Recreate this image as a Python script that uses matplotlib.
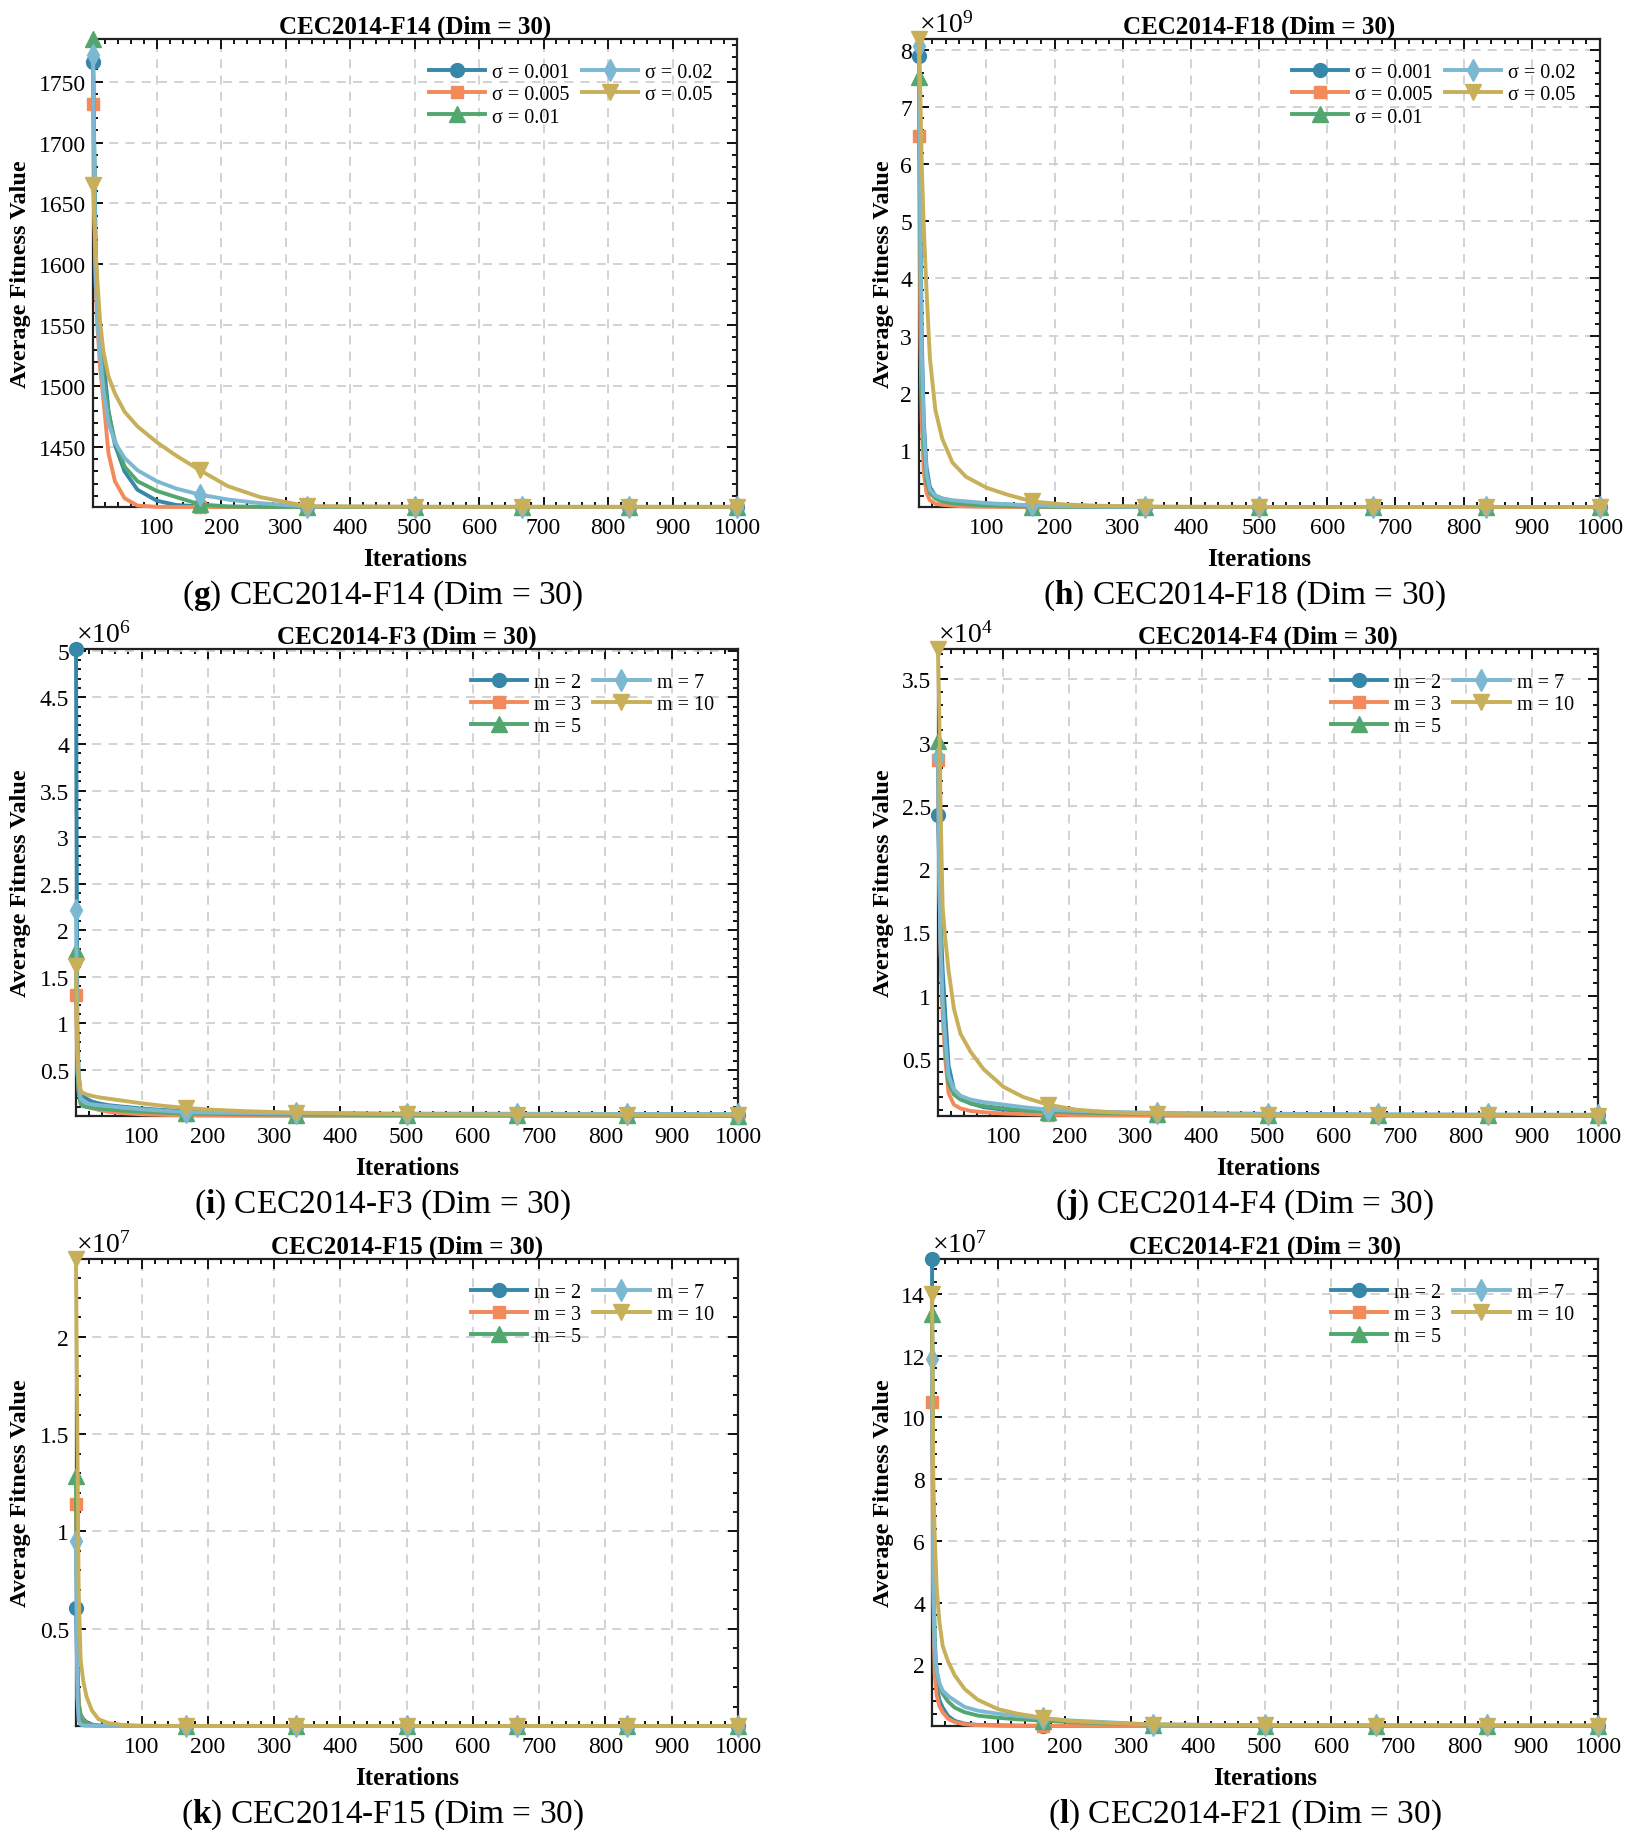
import numpy as np
import matplotlib
matplotlib.use('Agg')
import matplotlib.pyplot as plt
from matplotlib.ticker import MultipleLocator, AutoMinorLocator, FuncFormatter

plt.rcParams['font.family'] = ['Liberation Serif', 'DejaVu Serif']
plt.rcParams['mathtext.fontset'] = 'custom'
plt.rcParams['mathtext.rm'] = 'Liberation Serif'
plt.rcParams['mathtext.it'] = 'Liberation Serif:italic'
plt.rcParams['mathtext.bf'] = 'Liberation Serif:bold'

# iterations, markers sit on MARK_AT
ITERS = [1, 3, 5, 8, 12, 17, 25, 35, 50, 70, 100, 130, 167, 210, 260, 333, 500, 667, 833, 1000]
MARK_AT = [1, 167, 333, 500, 667, 833, 1000]

SIGMA_LABELS = ['σ = 0.001', 'σ = 0.005', 'σ = 0.01', 'σ = 0.02', 'σ = 0.05']
M_LABELS = ['m = 2', 'm = 3', 'm = 5', 'm = 7', 'm = 10']

# CEC2014-F14 (raw values)
f14_s001 = [1766, 1690, 1612, 1570, 1545, 1522, 1480, 1452, 1430, 1415, 1406, 1402.5, 1401.3, 1401.0, 1400.9, 1400.9, 1400.9, 1400.9, 1400.9, 1400.9]
f14_s005 = [1732, 1640, 1585, 1548, 1515, 1490, 1445, 1422, 1408, 1402, 1401, 1400.9, 1400.85, 1400.85, 1400.85, 1400.85, 1400.85, 1400.85, 1400.85, 1400.85]
f14_s01 = [1785, 1690, 1610, 1568, 1537, 1508, 1478, 1455, 1434, 1422, 1414, 1409, 1403, 1401.3, 1401.0, 1400.9, 1400.9, 1400.9, 1400.9, 1400.9]
f14_s02 = [1772, 1680, 1595, 1552, 1525, 1497, 1470, 1454, 1441, 1431, 1422, 1416, 1411, 1407, 1404, 1401.2, 1401.0, 1400.95, 1400.95, 1400.95]
f14_s05 = [1665, 1638, 1612, 1585, 1553, 1529, 1508, 1494, 1479, 1467, 1454, 1443, 1431, 1418, 1409, 1401.5, 1401.0, 1401.0, 1401.0, 1401.0]

# CEC2014-F18 (x1e9)
f18_s001 = [7.89, 5.2, 3.0, 1.5, 0.7, 0.35, 0.2, 0.15, 0.11, 0.08, 0.06, 0.045, 0.025, 0.012, 0.006, 0.003, 0.002, 0.002, 0.002, 0.002]
f18_s005 = [6.50, 3.0, 1.5, 0.6, 0.25, 0.12, 0.06, 0.04, 0.025, 0.012, 0.006, 0.003, 0.002, 0.0019, 0.0019, 0.0019, 0.0019, 0.0019, 0.0019, 0.0019]
f18_s01 = [7.53, 4.2, 2.2, 1.1, 0.45, 0.25, 0.15, 0.1, 0.07, 0.05, 0.03, 0.02, 0.01, 0.005, 0.003, 0.002, 0.002, 0.002, 0.002, 0.002]
f18_s02 = [8.07, 4.8, 2.7, 1.4, 0.6, 0.3, 0.2, 0.15, 0.12, 0.1, 0.07, 0.05, 0.03, 0.015, 0.008, 0.003, 0.002, 0.002, 0.002, 0.002]
f18_s05 = [8.19, 7.2, 6.0, 4.9, 3.8, 2.6, 1.7, 1.2, 0.78, 0.53, 0.34, 0.22, 0.1, 0.05, 0.025, 0.01, 0.003, 0.002, 0.002, 0.002]

# CEC2014-F3 (x1e6)
f3_m2 = [5.02, 1.0, 0.45, 0.26, 0.22, 0.19, 0.16, 0.14, 0.12, 0.105, 0.085, 0.07, 0.055, 0.045, 0.038, 0.032, 0.025, 0.02, 0.017, 0.015]
f3_m3 = [1.30, 0.5, 0.28, 0.18, 0.15, 0.12, 0.09, 0.07, 0.05, 0.035, 0.022, 0.016, 0.011, 0.009, 0.007, 0.006, 0.005, 0.0045, 0.004, 0.004]
f3_m5 = [1.78, 0.55, 0.25, 0.13, 0.11, 0.1, 0.09, 0.082, 0.075, 0.062, 0.05, 0.042, 0.032, 0.027, 0.023, 0.02, 0.015, 0.012, 0.01, 0.009]
f3_m7 = [2.22, 0.8, 0.36, 0.19, 0.16, 0.14, 0.13, 0.12, 0.11, 0.095, 0.076, 0.062, 0.045, 0.04, 0.036, 0.033, 0.03, 0.028, 0.026, 0.025]
f3_m10 = [1.62, 0.75, 0.42, 0.27, 0.25, 0.235, 0.22, 0.205, 0.19, 0.17, 0.14, 0.115, 0.09, 0.07, 0.055, 0.04, 0.022, 0.018, 0.016, 0.015]

# CEC2014-F4 (x1e4)
f4_m2 = [2.43, 2.0, 1.6, 1.2, 0.85, 0.45, 0.26, 0.2, 0.15, 0.12, 0.1, 0.09, 0.08, 0.07, 0.065, 0.06, 0.057, 0.055, 0.055, 0.055]
f4_m3 = [2.86, 1.9, 1.35, 0.85, 0.5, 0.23, 0.14, 0.11, 0.09, 0.08, 0.07, 0.065, 0.06, 0.057, 0.055, 0.053, 0.052, 0.051, 0.05, 0.05]
f4_m5 = [3.01, 2.0, 1.4, 0.95, 0.6, 0.31, 0.22, 0.18, 0.15, 0.13, 0.11, 0.095, 0.085, 0.078, 0.072, 0.065, 0.06, 0.057, 0.056, 0.055]
f4_m7 = [2.89, 1.9, 1.35, 0.95, 0.65, 0.37, 0.26, 0.21, 0.18, 0.16, 0.14, 0.12, 0.1, 0.09, 0.082, 0.075, 0.068, 0.064, 0.062, 0.06]
f4_m10 = [3.74, 3.2, 2.45, 1.7, 1.45, 1.2, 0.9, 0.7, 0.56, 0.42, 0.28, 0.2, 0.14, 0.1, 0.08, 0.066, 0.058, 0.055, 0.054, 0.053]

# CEC2014-F15 (x1e7)
f15_m2 = [0.608, 0.25, 0.12, 0.06, 0.035, 0.02, 0.008, 0.003, 0.001, 0.0005, 0.0003, 0.0002, 0.00015, 0.00015, 0.00015, 0.00015, 0.00015, 0.00015, 0.00015, 0.00015]
f15_m3 = [1.143, 0.35, 0.12, 0.05, 0.025, 0.012, 0.005, 0.002, 0.001, 0.0005, 0.0003, 0.0002, 0.00015, 0.00015, 0.00015, 0.00015, 0.00015, 0.00015, 0.00015, 0.00015]
f15_m5 = [1.286, 0.35, 0.1, 0.04, 0.02, 0.01, 0.004, 0.002, 0.001, 0.0005, 0.0003, 0.0002, 0.00015, 0.00015, 0.00015, 0.00015, 0.00015, 0.00015, 0.00015, 0.00015]
f15_m7 = [0.951, 0.15, 0.03, 0.008, 0.003, 0.0015, 0.0008, 0.0005, 0.0003, 0.0002, 0.00016, 0.00015, 0.00015, 0.00015, 0.00015, 0.00015, 0.00015, 0.00015, 0.00015, 0.00015]
f15_m10 = [2.40, 1.5, 0.7, 0.34, 0.23, 0.15, 0.08, 0.035, 0.015, 0.006, 0.002, 0.0008, 0.0005, 0.0003, 0.0002, 0.00015, 0.00015, 0.00015, 0.00015, 0.00015]

# CEC2014-F21 (x1e7)
f21_m2 = [15.13, 5.0, 2.2, 1.3, 0.85, 0.6, 0.33, 0.17, 0.08, 0.04, 0.025, 0.015, 0.01, 0.008, 0.006, 0.005, 0.005, 0.005, 0.005, 0.005]
f21_m3 = [10.5, 4.0, 1.7, 1.0, 0.65, 0.45, 0.24, 0.13, 0.06, 0.03, 0.018, 0.012, 0.008, 0.006, 0.005, 0.004, 0.004, 0.004, 0.004, 0.004]
f21_m5 = [13.36, 5.5, 2.8, 1.8, 1.35, 1.05, 0.8, 0.6, 0.45, 0.34, 0.27, 0.22, 0.18, 0.13, 0.09, 0.05, 0.02, 0.015, 0.012, 0.01]
f21_m7 = [11.9, 5.0, 2.6, 1.8, 1.4, 1.15, 0.98, 0.83, 0.62, 0.5, 0.4, 0.33, 0.25, 0.18, 0.13, 0.05, 0.03, 0.025, 0.022, 0.02]
f21_m10 = [14.0, 8.0, 6.2, 4.5, 3.4, 2.6, 2.1, 1.65, 1.2, 0.85, 0.55, 0.4, 0.27, 0.16, 0.11, 0.05, 0.03, 0.02, 0.018, 0.015]

COLORS = ['#3787A9', '#F28A5B', '#52A76F', '#7DB8D2', '#C8AF5A']
MARKERS = ['o', 's', '^', 'd', 'v']
MSIZES = [10, 9, 11, 11, 11]

W, H = 1630, 1840

panels = [
    # letter, title, series, labels, exponent, major step, axes box in px (x0, x1, y0, y1), caption centre x
    ('g', 'CEC2014-F14 (Dim = 30)', [f14_s001, f14_s005, f14_s01, f14_s02, f14_s05], SIGMA_LABELS, 0, 50, (93, 737, 40, 508), 383),
    ('h', 'CEC2014-F18 (Dim = 30)', [f18_s001, f18_s005, f18_s01, f18_s02, f18_s05], SIGMA_LABELS, 9, 1, (919, 1600, 40, 508), 1245),
    ('i', 'CEC2014-F3 (Dim = 30)', [f3_m2, f3_m3, f3_m5, f3_m7, f3_m10], M_LABELS, 6, 0.5, (76, 738, 650, 1117), 383),
    ('j', 'CEC2014-F4 (Dim = 30)', [f4_m2, f4_m3, f4_m5, f4_m7, f4_m10], M_LABELS, 4, 0.5, (938, 1598, 650, 1117), 1245),
    ('k', 'CEC2014-F15 (Dim = 30)', [f15_m2, f15_m3, f15_m5, f15_m7, f15_m10], M_LABELS, 7, 0.5, (76, 738, 1260, 1727), 383),
    ('l', 'CEC2014-F21 (Dim = 30)', [f21_m2, f21_m3, f21_m5, f21_m7, f21_m10], M_LABELS, 7, 2, (932, 1598, 1260, 1727), 1245),
]

fig = plt.figure(figsize=(W / 100, H / 100), dpi=100)
iters = np.array(ITERS)
mark_idx = [ITERS.index(v) for v in MARK_AT]

for letter, title, series, labels, expo, step, box, cap_x in panels:
    x0, x1, y0, y1 = box
    ax = fig.add_axes([x0 / W, 1 - y1 / H, (x1 - x0) / W, (y1 - y0) / H])
    scale = 10.0 ** expo
    allv = []
    for vals, lab, col, mk, ms in zip(series, labels, COLORS, MARKERS, MSIZES):
        v = np.array(vals) * scale
        allv.append(v)
        ax.plot(iters, v, color=col, lw=2.8, marker=mk, ms=ms, markevery=mark_idx,
                label=lab, clip_on=False, zorder=3)
    allv = np.concatenate(allv)
    ax.set_xlim(1, 1000)
    ax.set_ylim(allv.min(), allv.max())

    ax.xaxis.set_major_locator(MultipleLocator(100))
    ax.xaxis.set_minor_locator(AutoMinorLocator(5))
    ax.yaxis.set_major_locator(MultipleLocator(step * scale))
    ax.yaxis.set_minor_locator(AutoMinorLocator(5))
    ax.yaxis.set_major_formatter(FuncFormatter(lambda v, _, s=scale: f'{v / s:g}'))
    ax.tick_params(which='both', direction='in', top=True, right=True, width=1.3, labelsize=17)
    ax.tick_params(which='major', length=7)
    ax.tick_params(which='minor', length=3.5)
    ax.tick_params(axis='x', pad=7)
    ax.tick_params(axis='y', pad=5)
    for sp in ax.spines.values():
        sp.set_linewidth(1.6)
        sp.set_color('#222222')
    ax.grid(True, which='major', color='#CFCFCF', lw=1.3, ls=(0, (5, 4)))
    ax.set_axisbelow(True)

    ax.legend(loc='upper right', ncol=2, frameon=False, fontsize=14.5,
              handlelength=2.8, handletextpad=0.35, columnspacing=0.6,
              labelspacing=0.15, borderaxespad=0.8)

    cx = (x0 + x1) / 2
    fig.text(cx / W, 1 - (y0 - 13) / H, title, ha='center', va='center',
             fontsize=18, fontweight='bold')
    fig.text(cx / W, 1 - (y1 + 52) / H, 'Iterations', ha='center', va='center',
             fontsize=18, fontweight='bold')
    ylab_x = 21 if cap_x < 800 else 883
    fig.text(ylab_x / W, 1 - ((y0 + y1) / 2) / H, 'Average Fitness Value', rotation=90,
             ha='center', va='center', fontsize=17.5, fontweight='bold')
    if expo:
        fig.text(x0 / W, 1 - (y0 - 1) / H, rf'$\times10^{{{expo}}}$', ha='left', va='bottom',
                 fontsize=20)
    fig.text(cap_x / W, 1 - (y1 + 88) / H, rf'($\mathbf{{{letter}}}$) {title}',
             ha='center', va='center', fontsize=24)

fig.savefig('out.png', dpi=100)
